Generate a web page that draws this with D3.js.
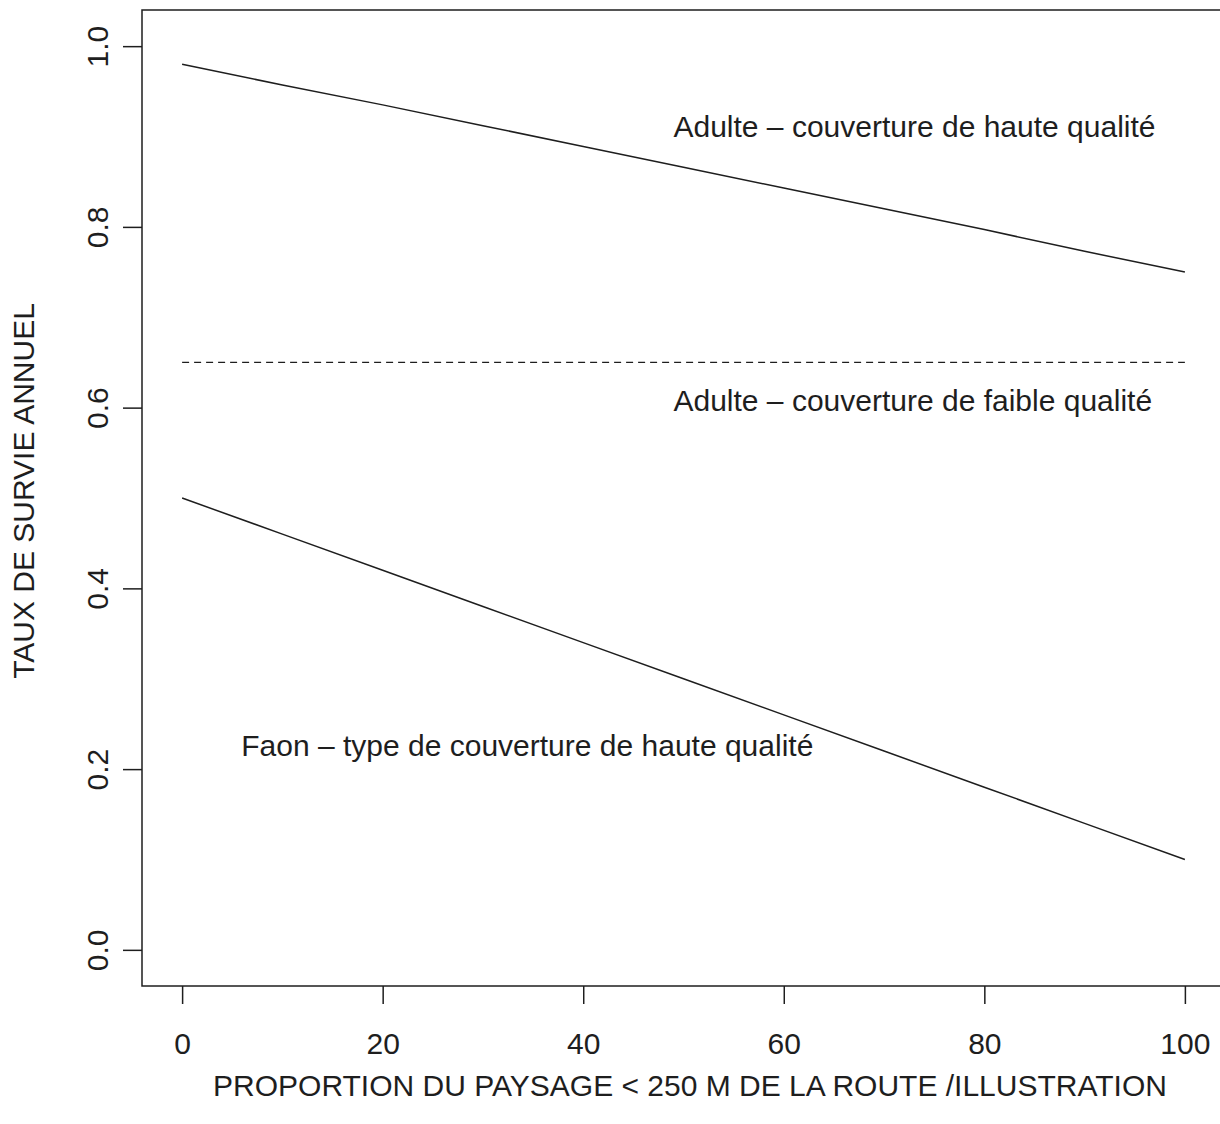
<!DOCTYPE html>
<html>
<head>
<meta charset="utf-8">
<script src="https://cdn.jsdelivr.net/npm/d3@7"></script>
<style>
  html, body { margin: 0; padding: 0; background: #fff; }
  svg { display: block; }
  text { font-family: "Liberation Sans", Arial, Helvetica, sans-serif; fill: #1e1e1e; }
</style>
</head>
<body>
<svg id="chart" width="1220" height="1124"></svg>
<script>
// Proportion of landscape within 250 m of a road (%)
const proportion = [0, 10, 20, 30, 40, 50, 60, 70, 80, 90, 100];

// Annual survival, adult deer in high-quality cover
const adultHigh = [0.980, 0.957, 0.935, 0.912, 0.889, 0.866, 0.843, 0.820, 0.797, 0.773, 0.750];

// Annual survival, adult deer in low-quality cover (constant)
const adultLow = [0.65, 0.65, 0.65, 0.65, 0.65, 0.65, 0.65, 0.65, 0.65, 0.65, 0.65];

// Annual survival, fawns in high-quality cover
const fawnHigh = [0.500, 0.460, 0.420, 0.380, 0.340, 0.300, 0.260, 0.220, 0.180, 0.140, 0.100];

const xTicks = [0, 20, 40, 60, 80, 100];
const yTicks = [0.0, 0.2, 0.4, 0.6, 0.8, 1.0];

const seriesLabels = [
  "Adulte \u2013 couverture de haute qualit\u00e9",
  "Adulte \u2013 couverture de faible qualit\u00e9",
  "Faon \u2013 type de couverture de haute qualit\u00e9"
];

const xTitle = "PROPORTION DU PAYSAGE < 250 M DE LA ROUTE /ILLUSTRATION";
const yTitle = "TAUX DE SURVIE ANNUEL";

// ---- layout -------------------------------------------------------------
const svg = d3.select("#chart");
const ink = "#1e1e1e";
const fontSize = 30;

// plot region (data range padded by 4% on each side)
const x = d3.scaleLinear().domain([-4, 104]).range([142, 1225]);
const y = d3.scaleLinear().domain([-0.04, 1.04]).range([986, 10]);

// frame
svg.append("rect")
  .attr("x", x(-4)).attr("y", y(1.04))
  .attr("width", x(104) - x(-4))
  .attr("height", y(-0.04) - y(1.04))
  .attr("fill", "none")
  .attr("stroke", ink)
  .attr("stroke-width", 1.5);

// x axis
const gx = svg.append("g")
  .attr("transform", `translate(0,${y(-0.04)})`)
  .call(d3.axisBottom(x).tickValues(xTicks).tickSize(18).tickFormat(d3.format("d")));
gx.select(".domain").remove();
gx.selectAll(".tick line").attr("stroke", ink).attr("stroke-width", 1.5);
gx.selectAll(".tick text")
  .attr("y", 68).attr("dy", 0)
  .style("font-size", fontSize + "px")
  .attr("fill", ink);

// y axis (labels rotated, as in base R graphics)
const gy = svg.append("g")
  .attr("transform", `translate(${x(-4)},0)`)
  .call(d3.axisLeft(y).tickValues(yTicks).tickSize(19).tickFormat(d3.format(".1f")));
gy.select(".domain").remove();
gy.selectAll(".tick line").attr("stroke", ink).attr("stroke-width", 1.5);
gy.selectAll(".tick text")
  .attr("x", 0).attr("y", 0).attr("dy", 0)
  .attr("text-anchor", "middle")
  .attr("transform", "translate(-34,0) rotate(-90)")
  .style("font-size", fontSize + "px")
  .attr("fill", ink);

// axis titles
svg.append("text")
  .attr("x", 690).attr("y", 1096)
  .attr("text-anchor", "middle")
  .style("font-size", fontSize + "px")
  .text(xTitle);

svg.append("text")
  .attr("transform", "translate(34,491) rotate(-90)")
  .attr("text-anchor", "middle")
  .style("font-size", fontSize + "px")
  .text(yTitle);

// ---- series -------------------------------------------------------------
const line = d3.line()
  .x((d, i) => x(proportion[i]))
  .y(d => y(d));

svg.append("path")
  .datum(adultHigh)
  .attr("d", line)
  .attr("fill", "none")
  .attr("stroke", ink)
  .attr("stroke-width", 1.5);

svg.append("path")
  .datum(adultLow)
  .attr("d", line)
  .attr("fill", "none")
  .attr("stroke", ink)
  .attr("stroke-width", 1.3)
  .attr("stroke-dasharray", "7,5");

svg.append("path")
  .datum(fawnHigh)
  .attr("d", line)
  .attr("fill", "none")
  .attr("stroke", ink)
  .attr("stroke-width", 1.5);

// series annotations (left-aligned, positioned in data units)
const labelPos = [
  { px: 49, py: 0.900 },
  { px: 49, py: 0.596 },
  { px: 5.9, py: 0.215 }
];
svg.selectAll("text.series-label")
  .data(seriesLabels)
  .join("text")
  .attr("class", "series-label")
  .attr("x", (d, i) => x(labelPos[i].px))
  .attr("y", (d, i) => y(labelPos[i].py))
  .style("font-size", fontSize + "px")
  .text(d => d);
</script>
</body>
</html>
